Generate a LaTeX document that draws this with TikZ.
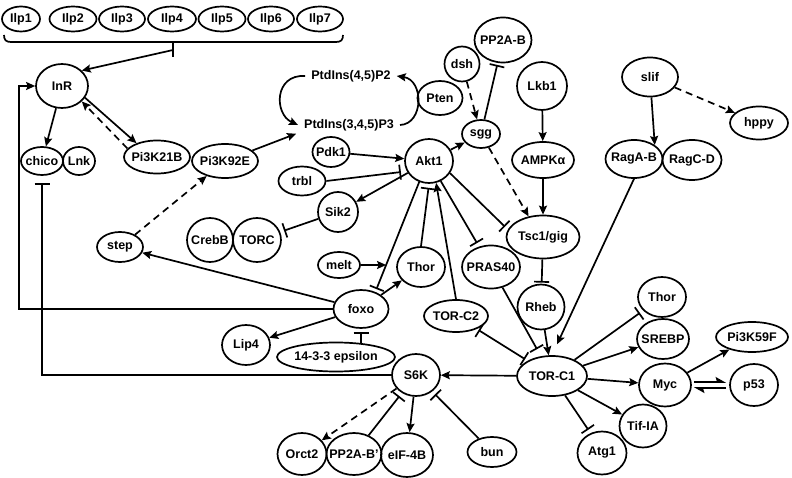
\documentclass[tikz,border=0pt]{standalone}
\usepackage{fontspec}
\setmainfont{Liberation Sans}
\usetikzlibrary{shapes.geometric,arrows.meta,calc,intersections}
\begin{document}
\begin{tikzpicture}[x=1pt,y=-1pt,
  every node/.style={font=\fontsize{12.5}{14}\selectfont\bfseries},
  el/.style={ellipse,draw,line width=1.7pt,inner sep=-4pt},
  lbl/.style={inner xsep=6pt,inner ysep=2pt},
  ln/.style={line width=1.7pt},
  arr/.style={ln,-{Stealth[length=9pt,width=8pt,inset=1.5pt]}},
  inh/.style={ln,-{Bar[width=15pt]},shorten >=4pt},
  dsh/.style={arr,dash pattern=on 7pt off 5pt},
  harp/.style={ln,-{Stealth[harpoon,length=9pt,width=10pt,inset=1.5pt]}},
]
\useasboundingbox (0,0) rectangle (792,478);

% ligands
\node[el,minimum width=38pt,minimum height=25pt] (ilp1) at (21,19) {Ilp1};
\node[el,minimum width=47pt,minimum height=25pt] (ilp2) at (73,19) {Ilp2};
\node[el,minimum width=46pt,minimum height=25pt] (ilp3) at (122,19) {Ilp3};
\node[el,minimum width=48pt,minimum height=25pt] (ilp4) at (172,19) {Ilp4};
\node[el,minimum width=47pt,minimum height=25pt] (ilp5) at (222,19) {Ilp5};
\node[el,minimum width=46pt,minimum height=25pt] (ilp6) at (271,19) {Ilp6};
\node[el,minimum width=46pt,minimum height=25pt] (ilp7) at (320,19) {Ilp7};

% nodes
\node[el,minimum width=52pt,minimum height=44pt] (InR) at (62,86) {InR};
\node[el,minimum width=42pt,minimum height=28pt] (chico) at (42,161) {chico};
\node[el,minimum width=32pt,minimum height=28pt] (Lnk) at (79,161) {Lnk};
\node[el,minimum width=66pt,minimum height=33pt] (Pi3K21B) at (157,157) {Pi3K21B};
\node[el,minimum width=66pt,minimum height=34pt] (Pi3K92E) at (225,161) {Pi3K92E};
\node[lbl] (P2) at (351,76) {PtdIns(4,5)P2};
\node[lbl] (P3) at (349,125) {PtdIns(3,4,5)P3};
\node[el,minimum width=45pt,minimum height=34pt] (Pten) at (440,98) {Pten};
\node[el,minimum width=37pt,minimum height=30pt] (Pdk1) at (331,152) {Pdk1};
\node[el,minimum width=47pt,minimum height=29pt] (trbl) at (302,181) {trbl};
\node[el,minimum width=48pt,minimum height=44pt] (Akt1) at (429,161) {Akt1};
\node[el,minimum width=40pt,minimum height=40pt] (Sik2) at (338,212) {Sik2};
\node[el,minimum width=46pt,minimum height=44pt] (CrebB) at (210,240) {CrebB};
\node[el,minimum width=48pt,minimum height=44pt] (TORC) at (257,240) {TORC};
\node[el,minimum width=46pt,minimum height=30pt] (step) at (120,247) {step};
\node[el,minimum width=42pt,minimum height=26pt] (melt) at (339,265) {melt};
\node[el,minimum width=48pt,minimum height=40pt] (Thor1) at (421,267) {Thor};
\node[el,minimum width=55pt,minimum height=38pt] (foxo) at (361,309) {foxo};
\node[el,minimum width=48pt,minimum height=40pt] (Lip4) at (246,345) {Lip4};
\node[el,minimum width=118pt,minimum height=29pt] (eps) at (336,357) {14-3-3 epsilon};
\node[el,minimum width=64pt,minimum height=32pt] (TORC2) at (456,316) {TOR-C2};
\node[el,minimum width=58pt,minimum height=43pt] (PRAS40) at (491,267) {PRAS40};
\node[el,minimum width=35pt,minimum height=35pt] (dsh) at (462,64) {dsh};
\node[el,minimum width=57pt,minimum height=45pt] (PP2AB) at (503,40) {PP2A-B};
\node[el,minimum width=38pt,minimum height=28pt] (sgg) at (481,134) {sgg};
\node[el,minimum width=50pt,minimum height=48pt] (Lkb1) at (542,86) {Lkb1};
\node[el,minimum width=62pt,minimum height=36pt] (AMPK) at (543,160) {AMPKα};
\node[el,minimum width=73pt,minimum height=43pt] (Tsc1) at (543,237) {Tsc1/gig};
\node[el,minimum width=47pt,minimum height=45pt] (Rheb) at (541,307) {Rheb};
\node[el,minimum width=56pt,minimum height=39pt] (slif) at (650,77) {slif};
\node[el,minimum width=58pt,minimum height=33pt] (hppy) at (759,123) {hppy};
\node[el,minimum width=57pt,minimum height=38pt] (RagAB) at (634,159) {RagA-B};
\node[el,minimum width=59pt,minimum height=40pt] (RagCD) at (692,160) {RagC-D};
\node[el,minimum width=70pt,minimum height=40pt] (TORC1) at (552,376) {TOR-C1};
\node[el,minimum width=48pt,minimum height=40pt] (Thor2) at (662,297) {Thor};
\node[el,minimum width=52pt,minimum height=40pt] (SREBP) at (663,339) {SREBP};
\node[el,minimum width=72pt,minimum height=30pt] (Pi3K59F) at (752,337) {Pi3K59F};
\node[el,minimum width=52pt,minimum height=43pt] (Myc) at (665,385) {Myc};
\node[el,minimum width=48pt,minimum height=42pt] (p53) at (754,385) {p53};
\node[el,minimum width=47pt,minimum height=43pt] (TifIA) at (643,426) {Tif-IA};
\node[el,minimum width=49pt,minimum height=43pt] (Atg1) at (602,453) {Atg1};
\node[el,minimum width=48pt,minimum height=42pt] (S6K) at (416,375) {S6K};
\node[el,minimum width=49pt,minimum height=30pt] (bun) at (492,452) {bun};
\node[el,minimum width=49pt,minimum height=42pt] (Orct2) at (302,454) {Orct2};
\node[el,minimum width=55pt,minimum height=42pt,inner xsep=-6pt] (PP2ABp) at (354,454) {PP2A-B'};
\node[el,minimum width=52pt,minimum height=44pt] (eIF4B) at (407,455) {eIF-4B};

% brace over ligands
\coordinate (bt) at (173,50);
\coordinate (lx) at (19,0);
\draw[ln] (4,35) .. controls (4,40) and (6,42) .. (11,42) -- (336,42)
  .. controls (341,42) and (343,40) .. (343,35);
\draw[ln] (173,42) -- (173,57);
\draw[arr] (bt) -- (InR.38);

% insulin receptor part
\draw[arr] (InR) -- (chico);
\draw[arr] (InR.-27) -- (Pi3K21B.146);
\draw[dsh] (Pi3K21B.164) -- (InR.-38);
\draw[arr,shorten >=2pt] (Pi3K92E) -- (P3.south west);
\draw[arr] (P2.west) .. controls (274,74) and (274,114) .. (P3.west);
\draw[arr] (P3.east) .. controls (424,124) and (424,80) .. (P2.east);
\draw[dsh] (step) -- (Pi3K92E);

% Akt1 part
\draw[arr] (Pdk1) -- (Akt1);
\draw[inh,shorten >=6pt] (trbl.east) -- (Akt1.205);
\draw[arr] (Akt1) -- (Sik2);
\draw[inh] (Sik2) -- (TORC);
\draw[arr] (Akt1) -- (sgg);
\draw[dsh] (dsh) -- (sgg);
\draw[inh,shorten >=2pt] (sgg) -- (PP2AB);
\draw[dsh] (sgg) -- (Tsc1.125);
\draw[arr] (Lkb1) -- (AMPK);
\draw[arr] (AMPK) -- (Tsc1);
\draw[inh,shorten >=1pt] (Tsc1) -- (Rheb);
\draw[inh] (Akt1.-30) -- (Tsc1.168);
\draw[inh] (Akt1) -- (PRAS40);
\draw[inh] (Thor1.north) -- (Akt1.south);
\draw[arr] (TORC2.north) -- (Akt1.-72);
\draw[inh,shorten >=3pt,name path=af] (Akt1.-115) -- (foxo.50);
\path[name path=mh] (melt.east) -- ++(80,0);
\path[name intersections={of=af and mh,by=mx}];
\draw[arr] (melt) -- (mx);

% foxo part
\draw[arr] (foxo) -- (Thor1);
\draw[arr] (foxo) -- (step);
\draw[arr] (foxo) -- (Lip4);
\draw[inh,shorten >=3pt] ($(eps.north -| foxo.south)+(0,1)$) -- (foxo.south);
\draw[arr] (foxo) -- (foxo -| lx) |- (InR);

% TOR part
\draw[arr] (slif) -- (RagAB.north east);
\draw[dsh] (slif) -- (hppy);
\draw[arr,shorten >=12pt] (RagAB.south) -- (TORC1.north);
\draw[arr] (Rheb) -- (TORC1);
\draw[inh,shorten >=8pt] (PRAS40) -- (TORC1);
\draw[ln,{Bar[width=15pt]}-{Bar[width=15pt]},shorten <=2pt,shorten >=3pt] (TORC2) -- (TORC1);
\draw[arr] (TORC1) -- (S6K);
\draw[inh] (TORC1) -- (Thor2);
\draw[arr] (TORC1) -- (SREBP);
\draw[arr] (TORC1) -- (Myc);
\draw[arr] (TORC1) -- (TifIA);
\draw[inh] (TORC1) -- (Atg1.120);
\draw[arr] (Myc) -- (Pi3K59F);
\draw[harp] ([xshift=2pt,yshift=3pt]Myc.east) -- ([xshift=-3pt,yshift=3pt]p53.west);
\draw[harp] ([xshift=-3pt,yshift=-3pt]p53.west) -- ([xshift=2pt,yshift=-3pt]Myc.east);

% S6K part
\draw[inh,shorten >=7pt] (S6K) -| (chico);
\draw[dsh] (S6K) -- (Orct2);
\draw[inh] (PP2ABp) -- (S6K);
\draw[arr] (S6K) -- (eIF4B);
\draw[inh] (bun) -- (S6K);
\end{tikzpicture}
\end{document}
